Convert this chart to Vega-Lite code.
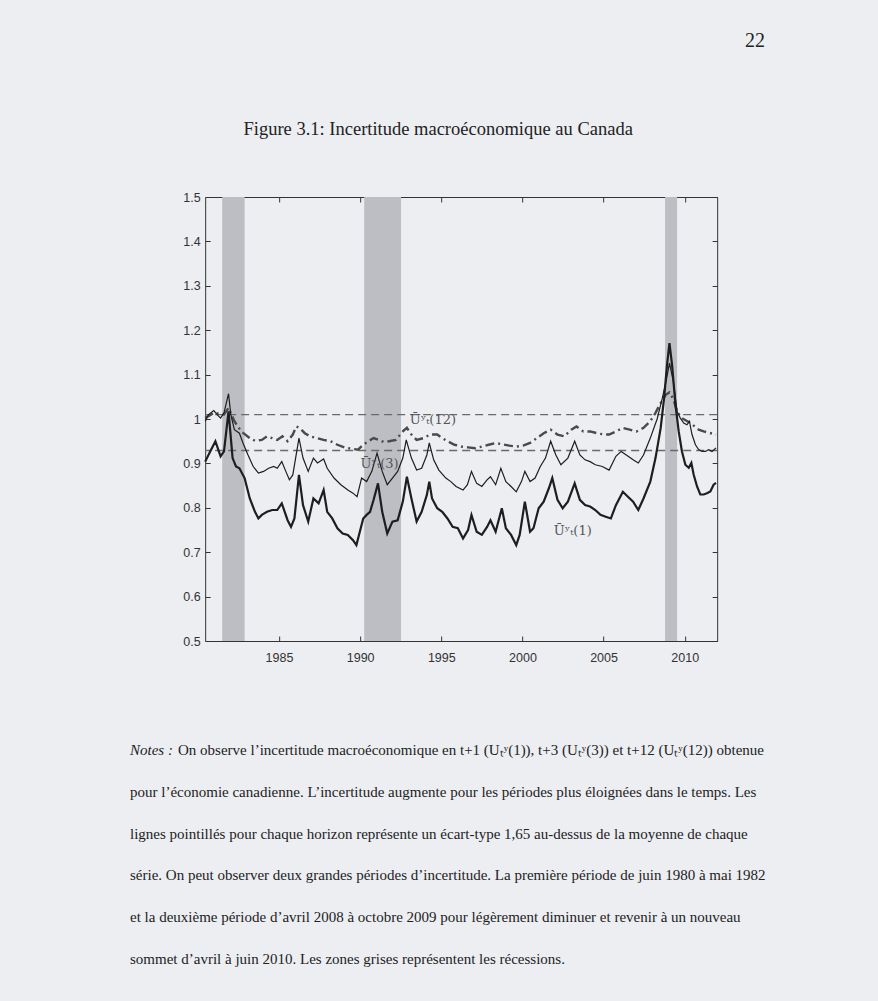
{
  "$schema": "https://vega.github.io/schema/vega-lite/v6.json",
  "background": "#eceef2",
  "padding": {"left": 130, "top": 30, "right": 82, "bottom": 30},
  "title": {"text": "22", "anchor": "end", "font": "Liberation Serif", "fontSize": 20, "fontWeight": "normal", "color": "#222", "offset": 69, "dx": -31},
  "datasets": {
    "u1": [
      {"annee":1980.45,"valeur":0.904},{"annee":1980.76,"valeur":0.927},{"annee":1981.08,"valeur":0.950},{"annee":1981.40,"valeur":0.916},{"annee":1981.61,"valeur":0.927},{"annee":1981.89,"valeur":1.017},{"annee":1982.14,"valeur":0.912},{"annee":1982.35,"valeur":0.893},{"annee":1982.56,"valeur":0.889},{"annee":1982.88,"valeur":0.867},{"annee":1983.20,"valeur":0.821},{"annee":1983.52,"valeur":0.791},{"annee":1983.73,"valeur":0.776},{"annee":1983.94,"valeur":0.784},{"annee":1984.26,"valeur":0.791},{"annee":1984.58,"valeur":0.795},{"annee":1984.89,"valeur":0.795},{"annee":1985.17,"valeur":0.810},{"annee":1985.53,"valeur":0.772},{"annee":1985.74,"valeur":0.757},{"annee":1985.95,"valeur":0.776},{"annee":1986.23,"valeur":0.874},{"annee":1986.48,"valeur":0.806},{"annee":1986.80,"valeur":0.769},{"annee":1987.12,"valeur":0.821},{"annee":1987.44,"valeur":0.810},{"annee":1987.75,"valeur":0.840},{"annee":1987.97,"valeur":0.791},{"annee":1988.28,"valeur":0.776},{"annee":1988.60,"valeur":0.754},{"annee":1988.92,"valeur":0.742},{"annee":1989.24,"valeur":0.739},{"annee":1989.56,"valeur":0.727},{"annee":1989.77,"valeur":0.716},{"annee":1989.98,"valeur":0.746},{"annee":1990.19,"valeur":0.776},{"annee":1990.40,"valeur":0.784},{"annee":1990.61,"valeur":0.791},{"annee":1990.83,"valeur":0.818},{"annee":1991.10,"valeur":0.855},{"annee":1991.36,"valeur":0.791},{"annee":1991.67,"valeur":0.742},{"annee":1991.99,"valeur":0.769},{"annee":1992.31,"valeur":0.772},{"annee":1992.63,"valeur":0.814},{"annee":1992.88,"valeur":0.870},{"annee":1993.16,"valeur":0.821},{"annee":1993.48,"valeur":0.769},{"annee":1993.79,"valeur":0.791},{"annee":1994.11,"valeur":0.829},{"annee":1994.26,"valeur":0.859},{"annee":1994.43,"valeur":0.821},{"annee":1994.75,"valeur":0.799},{"annee":1995.06,"valeur":0.791},{"annee":1995.38,"valeur":0.776},{"annee":1995.70,"valeur":0.757},{"annee":1996.02,"valeur":0.754},{"annee":1996.34,"valeur":0.731},{"annee":1996.65,"valeur":0.750},{"annee":1996.86,"valeur":0.784},{"annee":1997.18,"valeur":0.746},{"annee":1997.50,"valeur":0.739},{"annee":1997.82,"valeur":0.757},{"annee":1998.03,"valeur":0.772},{"annee":1998.35,"valeur":0.746},{"annee":1998.73,"valeur":0.799},{"annee":1998.98,"valeur":0.754},{"annee":1999.30,"valeur":0.739},{"annee":1999.62,"valeur":0.716},{"annee":1999.83,"valeur":0.739},{"annee":2000.15,"valeur":0.814},{"annee":2000.47,"valeur":0.746},{"annee":2000.68,"valeur":0.754},{"annee":2001.00,"valeur":0.799},{"annee":2001.31,"valeur":0.814},{"annee":2001.63,"valeur":0.844},{"annee":2001.84,"valeur":0.867},{"annee":2002.16,"valeur":0.818},{"annee":2002.48,"valeur":0.799},{"annee":2002.80,"valeur":0.814},{"annee":2003.22,"valeur":0.855},{"annee":2003.54,"valeur":0.818},{"annee":2003.86,"valeur":0.806},{"annee":2004.17,"valeur":0.803},{"annee":2004.49,"valeur":0.795},{"annee":2004.81,"valeur":0.784},{"annee":2005.13,"valeur":0.780},{"annee":2005.45,"valeur":0.776},{"annee":2005.76,"valeur":0.806},{"annee":2006.19,"valeur":0.836},{"annee":2006.50,"valeur":0.825},{"annee":2006.82,"valeur":0.814},{"annee":2007.14,"valeur":0.795},{"annee":2007.46,"valeur":0.821},{"annee":2007.88,"valeur":0.859},{"annee":2008.20,"valeur":0.912},{"annee":2008.52,"valeur":0.980},{"annee":2008.73,"valeur":1.047},{"annee":2008.91,"valeur":1.122},{"annee":2009.06,"valeur":1.171},{"annee":2009.22,"valeur":1.122},{"annee":2009.43,"valeur":1.032},{"annee":2009.63,"valeur":0.972},{"annee":2009.83,"valeur":0.927},{"annee":2010.04,"valeur":0.897},{"annee":2010.25,"valeur":0.890},{"annee":2010.41,"valeur":0.901},{"annee":2010.55,"valeur":0.875},{"annee":2010.76,"valeur":0.848},{"annee":2010.96,"valeur":0.830},{"annee":2011.17,"valeur":0.830},{"annee":2011.37,"valeur":0.833},{"annee":2011.58,"valeur":0.837},{"annee":2011.78,"valeur":0.852},{"annee":2011.93,"valeur":0.856}
    ],
    "u3": [
      {"annee":1980.45,"valeur":0.995},{"annee":1980.66,"valeur":1.010},{"annee":1980.98,"valeur":1.019},{"annee":1981.19,"valeur":1.010},{"annee":1981.40,"valeur":1.002},{"annee":1981.61,"valeur":1.014},{"annee":1981.89,"valeur":1.057},{"annee":1982.03,"valeur":1.010},{"annee":1982.25,"valeur":0.976},{"annee":1982.56,"valeur":0.968},{"annee":1982.78,"valeur":0.946},{"annee":1983.09,"valeur":0.919},{"annee":1983.41,"valeur":0.893},{"annee":1983.73,"valeur":0.878},{"annee":1984.05,"valeur":0.882},{"annee":1984.36,"valeur":0.889},{"annee":1984.68,"valeur":0.893},{"annee":1984.89,"valeur":0.889},{"annee":1985.17,"valeur":0.904},{"annee":1985.42,"valeur":0.882},{"annee":1985.64,"valeur":0.863},{"annee":1985.85,"valeur":0.874},{"annee":1986.23,"valeur":0.957},{"annee":1986.48,"valeur":0.912},{"annee":1986.80,"valeur":0.882},{"annee":1987.12,"valeur":0.912},{"annee":1987.37,"valeur":0.901},{"annee":1987.75,"valeur":0.910},{"annee":1987.97,"valeur":0.889},{"annee":1988.39,"valeur":0.867},{"annee":1988.81,"valeur":0.852},{"annee":1989.24,"valeur":0.840},{"annee":1989.56,"valeur":0.833},{"annee":1989.81,"valeur":0.825},{"annee":1990.09,"valeur":0.867},{"annee":1990.40,"valeur":0.859},{"annee":1990.72,"valeur":0.882},{"annee":1991.04,"valeur":0.923},{"annee":1991.36,"valeur":0.882},{"annee":1991.67,"valeur":0.852},{"annee":1991.99,"valeur":0.867},{"annee":1992.31,"valeur":0.882},{"annee":1992.63,"valeur":0.912},{"annee":1992.84,"valeur":0.953},{"annee":1993.16,"valeur":0.912},{"annee":1993.48,"valeur":0.885},{"annee":1993.79,"valeur":0.889},{"annee":1994.11,"valeur":0.919},{"annee":1994.26,"valeur":0.946},{"annee":1994.53,"valeur":0.908},{"annee":1994.85,"valeur":0.885},{"annee":1995.28,"valeur":0.867},{"annee":1995.59,"valeur":0.859},{"annee":1995.91,"valeur":0.848},{"annee":1996.34,"valeur":0.840},{"annee":1996.61,"valeur":0.852},{"annee":1996.86,"valeur":0.882},{"annee":1997.18,"valeur":0.855},{"annee":1997.50,"valeur":0.848},{"annee":1997.82,"valeur":0.863},{"annee":1998.03,"valeur":0.870},{"annee":1998.35,"valeur":0.852},{"annee":1998.67,"valeur":0.889},{"annee":1998.98,"valeur":0.859},{"annee":1999.30,"valeur":0.848},{"annee":1999.62,"valeur":0.836},{"annee":1999.94,"valeur":0.859},{"annee":2000.15,"valeur":0.882},{"annee":2000.47,"valeur":0.859},{"annee":2000.78,"valeur":0.867},{"annee":2001.10,"valeur":0.893},{"annee":2001.42,"valeur":0.912},{"annee":2001.74,"valeur":0.950},{"annee":2002.06,"valeur":0.919},{"annee":2002.37,"valeur":0.897},{"annee":2002.80,"valeur":0.912},{"annee":2003.22,"valeur":0.950},{"annee":2003.54,"valeur":0.919},{"annee":2003.86,"valeur":0.908},{"annee":2004.17,"valeur":0.904},{"annee":2004.49,"valeur":0.897},{"annee":2004.92,"valeur":0.893},{"annee":2005.34,"valeur":0.885},{"annee":2005.76,"valeur":0.916},{"annee":2006.08,"valeur":0.927},{"annee":2006.40,"valeur":0.919},{"annee":2006.82,"valeur":0.908},{"annee":2007.14,"valeur":0.901},{"annee":2007.46,"valeur":0.919},{"annee":2007.88,"valeur":0.957},{"annee":2008.30,"valeur":1.000},{"annee":2008.62,"valeur":1.047},{"annee":2008.85,"valeur":1.085},{"annee":2009.06,"valeur":1.126},{"annee":2009.30,"valeur":1.085},{"annee":2009.53,"valeur":1.017},{"annee":2009.73,"valeur":1.002},{"annee":2009.94,"valeur":0.991},{"annee":2010.14,"valeur":0.987},{"annee":2010.29,"valeur":0.995},{"annee":2010.45,"valeur":0.965},{"annee":2010.66,"valeur":0.942},{"annee":2010.86,"valeur":0.931},{"annee":2011.07,"valeur":0.927},{"annee":2011.27,"valeur":0.927},{"annee":2011.48,"valeur":0.931},{"annee":2011.68,"valeur":0.927},{"annee":2011.93,"valeur":0.935}
    ],
    "u12": [
      {"annee":1980.45,"valeur":1.002},{"annee":1980.98,"valeur":1.014},{"annee":1981.61,"valeur":1.010},{"annee":1981.89,"valeur":1.025},{"annee":1982.25,"valeur":0.995},{"annee":1982.67,"valeur":0.972},{"annee":1983.20,"valeur":0.957},{"annee":1983.52,"valeur":0.951},{"annee":1983.94,"valeur":0.953},{"annee":1984.26,"valeur":0.961},{"annee":1984.58,"valeur":0.957},{"annee":1984.89,"valeur":0.953},{"annee":1985.21,"valeur":0.961},{"annee":1985.53,"valeur":0.950},{"annee":1985.85,"valeur":0.965},{"annee":1986.06,"valeur":0.983},{"annee":1986.27,"valeur":0.980},{"annee":1986.59,"valeur":0.968},{"annee":1986.91,"valeur":0.961},{"annee":1987.33,"valeur":0.957},{"annee":1987.75,"valeur":0.953},{"annee":1988.18,"valeur":0.950},{"annee":1988.60,"valeur":0.942},{"annee":1989.03,"valeur":0.936},{"annee":1989.45,"valeur":0.933},{"annee":1989.87,"valeur":0.931},{"annee":1990.19,"valeur":0.942},{"annee":1990.51,"valeur":0.950},{"annee":1990.83,"valeur":0.957},{"annee":1991.14,"valeur":0.953},{"annee":1991.46,"valeur":0.948},{"annee":1991.78,"valeur":0.950},{"annee":1992.20,"valeur":0.953},{"annee":1992.63,"valeur":0.972},{"annee":1992.88,"valeur":0.980},{"annee":1993.16,"valeur":0.965},{"annee":1993.48,"valeur":0.953},{"annee":1993.90,"valeur":0.957},{"annee":1994.32,"valeur":0.965},{"annee":1994.75,"valeur":0.965},{"annee":1995.06,"valeur":0.957},{"annee":1995.38,"valeur":0.950},{"annee":1995.81,"valeur":0.942},{"annee":1996.23,"valeur":0.938},{"annee":1996.65,"valeur":0.936},{"annee":1997.08,"valeur":0.934},{"annee":1997.50,"valeur":0.938},{"annee":1997.92,"valeur":0.942},{"annee":1998.35,"valeur":0.946},{"annee":1998.77,"valeur":0.943},{"annee":1999.20,"valeur":0.940},{"annee":1999.62,"valeur":0.938},{"annee":2000.04,"valeur":0.940},{"annee":2000.47,"valeur":0.946},{"annee":2000.89,"valeur":0.957},{"annee":2001.31,"valeur":0.968},{"annee":2001.74,"valeur":0.976},{"annee":2002.16,"valeur":0.965},{"annee":2002.58,"valeur":0.961},{"annee":2003.01,"valeur":0.976},{"annee":2003.33,"valeur":0.983},{"annee":2003.75,"valeur":0.972},{"annee":2004.17,"valeur":0.972},{"annee":2004.60,"valeur":0.968},{"annee":2005.02,"valeur":0.965},{"annee":2005.34,"valeur":0.965},{"annee":2005.76,"valeur":0.972},{"annee":2006.19,"valeur":0.980},{"annee":2006.61,"valeur":0.976},{"annee":2007.03,"valeur":0.972},{"annee":2007.46,"valeur":0.980},{"annee":2007.88,"valeur":0.995},{"annee":2008.20,"valeur":1.014},{"annee":2008.52,"valeur":1.036},{"annee":2008.84,"valeur":1.055},{"annee":2009.06,"valeur":1.060},{"annee":2009.30,"valeur":1.045},{"annee":2009.55,"valeur":1.015},{"annee":2009.83,"valeur":1.002},{"annee":2010.35,"valeur":0.991},{"annee":2010.86,"valeur":0.976},{"annee":2011.17,"valeur":0.972},{"annee":2011.93,"valeur":0.965}
    ],
    "recessions": [
      {"debut":1981.5,"fin":1982.88},{"debut":1990.25,"fin":1992.52},{"debut":2008.79,"fin":2009.53}
    ],
    "seuils": [{"seuil":1.01},{"seuil":0.929}],
    "etiquettes": [
      {"annee":1994.48,"valeur":0.998,"etiquette":"Ūʸₜ(12)"},
      {"annee":1991.2,"valeur":0.899,"etiquette":"Ūʸₜ(3)"},
      {"annee":2003.1,"valeur":0.748,"etiquette":"Ūʸₜ(1)"}
    ],
    "notes": [
      {"ligne":1,"texte":"On observe l’incertitude macroéconomique en t+1 (Uₜʸ(1)), t+3 (Uₜʸ(3)) et t+12 (Uₜʸ(12)) obtenue"},
      {"ligne":2,"texte":"pour l’économie canadienne. L’incertitude augmente pour les périodes plus éloignées dans le temps. Les"},
      {"ligne":3,"texte":"lignes pointillés pour chaque horizon représente un écart-type 1,65 au-dessus de la moyenne de chaque"},
      {"ligne":4,"texte":"série. On peut observer deux grandes périodes d’incertitude. La première période de juin 1980 à mai 1982"},
      {"ligne":5,"texte":"et la deuxième période d’avril 2008 à octobre 2009 pour légèrement diminuer et revenir à un nouveau"},
      {"ligne":6,"texte":"sommet d’avril à juin 2010. Les zones grises représentent les récessions."}
    ]
  },
  "vconcat": [
    {
      "width": 512,
      "height": 444,
      "title": {"text": "Figure 3.1: Incertitude macroéconomique au Canada", "font": "Liberation Serif", "fontSize": 18.5, "fontWeight": "normal", "color": "#222", "anchor": "middle", "frame": "group", "offset": 53, "dx": -23},
      "resolve": {"axis": {"x": "independent", "y": "independent"}},
      "layer": [
        {
          "data": {"name": "recessions"},
          "mark": {"type": "rect", "color": "#bcbec4"},
          "encoding": {
            "x": {"field": "debut", "type": "quantitative", "scale": {"domain": [1980.45, 2012.0], "nice": false, "zero": false},
                  "axis": {"orient": "bottom", "values": [1985, 1990, 1995, 2000, 2005, 2010], "format": "d", "title": null, "labelPadding": 15}},
            "x2": {"field": "fin"}
          }
        },
        {
          "data": {"name": "seuils"},
          "mark": {"type": "rule", "color": "#6a6a6a", "strokeWidth": 1.3, "strokeDash": [8, 5]},
          "encoding": {
            "y": {"field": "seuil", "type": "quantitative", "scale": {"domain": [0.5, 1.5], "nice": false, "zero": false}, "axis": null}
          }
        },
        {
          "data": {"name": "u12"},
          "mark": {"type": "line", "color": "#4a4a4a", "strokeWidth": 2.4, "strokeDash": [9, 4, 2, 4]},
          "encoding": {
            "x": {"field": "annee", "type": "quantitative", "axis": null},
            "y": {"field": "valeur", "type": "quantitative", "axis": null}
          }
        },
        {
          "data": {"name": "u3"},
          "mark": {"type": "line", "color": "#1e1e1e", "strokeWidth": 1.2},
          "encoding": {
            "x": {"field": "annee", "type": "quantitative", "axis": null},
            "y": {"field": "valeur", "type": "quantitative", "axis": null}
          }
        },
        {
          "data": {"name": "u1"},
          "mark": {"type": "line", "color": "#1e1e1e", "strokeWidth": 2.2},
          "encoding": {
            "x": {"field": "annee", "type": "quantitative", "axis": null},
            "y": {"field": "valeur", "type": "quantitative",
                  "axis": {"orient": "left", "values": [0.5, 0.6, 0.7, 0.8, 0.9, 1, 1.1, 1.2, 1.3, 1.4, 1.5], "labelExpr": "datum.value == 1 ? '1' : format(datum.value, '.1f')", "title": null, "labelPadding": 10}}
          }
        },
        {
          "data": {"name": "etiquettes"},
          "mark": {"type": "text", "font": "DejaVu Serif", "fontSize": 13, "color": "#555", "align": "center", "baseline": "middle"},
          "encoding": {
            "x": {"field": "annee", "type": "quantitative", "axis": {"orient": "top", "values": [1985, 1990, 1995, 2000, 2005, 2010], "labels": false, "title": null}},
            "y": {"field": "valeur", "type": "quantitative", "axis": {"orient": "right", "values": [0.5, 0.6, 0.7, 0.8, 0.9, 1, 1.1, 1.2, 1.3, 1.4, 1.5], "labels": false, "title": null}},
            "text": {"field": "etiquette"}
          }
        }
      ]
    },
    {
      "width": 666,
      "height": 251,
      "data": {"name": "notes"},
      "layer": [
        {
          "transform": [{"filter": "datum.ligne > 1"}],
          "mark": {"type": "text", "align": "left", "baseline": "middle", "font": "Liberation Serif", "fontSize": 15, "color": "#222"},
          "encoding": {
            "x": {"value": 0},
            "y": {"field": "ligne", "type": "ordinal", "axis": null},
            "text": {"field": "texte"}
          }
        },
        {
          "transform": [{"filter": "datum.ligne == 1"}],
          "mark": {"type": "text", "align": "left", "baseline": "middle", "font": "Liberation Serif", "fontSize": 15, "color": "#222", "dx": 48},
          "encoding": {
            "x": {"value": 0},
            "y": {"field": "ligne", "type": "ordinal", "axis": null},
            "text": {"field": "texte"}
          }
        },
        {
          "transform": [{"filter": "datum.ligne == 1"}],
          "mark": {"type": "text", "align": "left", "baseline": "middle", "font": "Liberation Serif", "fontSize": 15, "fontStyle": "italic", "color": "#222"},
          "encoding": {
            "x": {"value": 0},
            "y": {"field": "ligne", "type": "ordinal", "axis": null},
            "text": {"value": "Notes :"}
          }
        }
      ]
    }
  ],
  "center": true,
  "spacing": 65,
  "config": {
    "view": {"stroke": null},
    "axis": {"labelFont": "Liberation Sans", "labelFontSize": 12.5, "labelColor": "#333", "domainColor": "#333", "tickColor": "#333", "grid": false, "tickSize": -5, "domainWidth": 1, "tickWidth": 1}
  }
}
